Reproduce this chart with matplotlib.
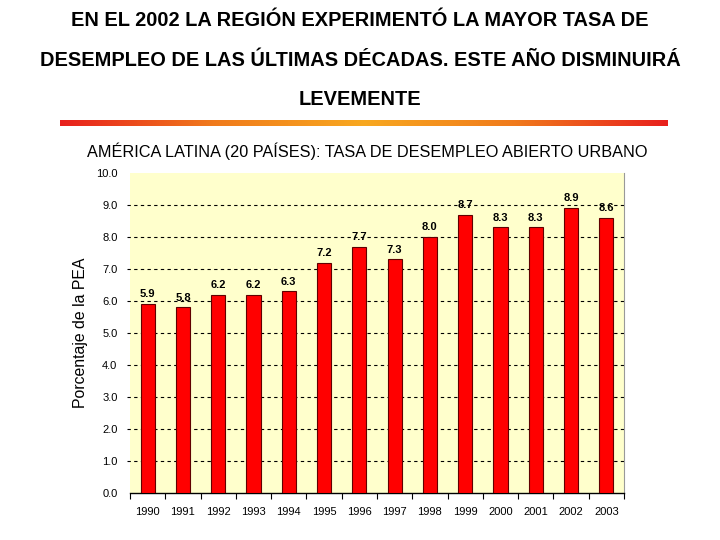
import numpy as np
import matplotlib.pyplot as plt
from matplotlib.colors import LinearSegmentedColormap

plt.rcParams['font.family'] = ['Liberation Sans', 'DejaVu Sans']

years = ["1990", "1991", "1992", "1993", "1994", "1995", "1996",
         "1997", "1998", "1999", "2000", "2001", "2002", "2003"]
rates = [5.9, 5.8, 6.2, 6.2, 6.3, 7.2, 7.7, 7.3, 8.0, 8.7, 8.3, 8.3, 8.9, 8.6]
title_lines = ["EN EL 2002 LA REGIÓN EXPERIMENTÓ LA MAYOR TASA DE",
               "DESEMPLEO DE LAS ÚLTIMAS DÉCADAS. ESTE AÑO DISMINUIRÁ",
               "LEVEMENTE"]
subtitle = "AMÉRICA LATINA (20 PAÍSES): TASA DE DESEMPLEO ABIERTO URBANO"
ylabel = "Porcentaje de la PEA"

fig = plt.figure(figsize=(7.2, 5.4), dpi=100)

# title
for i, line in enumerate(title_lines):
    fig.text(0.5, 1 - (20 + 40 * i) / 540, line, ha="center", va="center",
             fontsize=14.4, fontweight="bold")

# gradient rule under the title
gax = fig.add_axes([60 / 720, 1 - 126 / 540, 608 / 720, 6 / 540])
cmap = LinearSegmentedColormap.from_list("rule", ["#e8201c", "#f07a1c", "#f8a820", "#f07a1c", "#e8201c"])
gax.imshow(np.linspace(0, 1, 256)[None, :], aspect="auto", cmap=cmap)
gax.axis("off")

fig.text(87 / 720, 1 - 151 / 540, subtitle, ha="left", va="center", fontsize=11.7)

ax = fig.add_axes([130 / 720, 1 - 493 / 540, 494 / 720, 320 / 540])
ax.set_facecolor("#ffffcc")
x = np.arange(len(years))
ax.bar(x, rates, width=0.4, color="#ff0000", edgecolor="#600000", linewidth=0.8, zorder=3)
for xi, r in zip(x, rates):
    ax.text(xi, r + 0.15, f"{r:.1f}", ha="center", va="bottom", fontsize=8, fontweight="bold")

ax.set_xlim(-0.5, len(years) - 0.5)
ax.set_ylim(0, 10)
ax.set_yticks(np.arange(0, 11, 1))
ax.set_yticklabels([f"{v:.1f}" for v in range(11)], fontsize=8)
for v in range(1, 10):
    ax.axhline(v, color="black", linestyle=(0, (3, 3)), linewidth=0.8, zorder=2, clip_on=False,
               xmin=-0.006)
ax.set_xticks(x)
ax.set_xticklabels(years, fontsize=8)
ax.set_xticks(np.arange(-0.5, len(years), 1), minor=True)
ax.tick_params(axis="x", which="major", length=0, pad=10)
ax.tick_params(axis="x", which="minor", length=4, width=0.8, direction="out")
ax.tick_params(axis="y", length=0, pad=9)
ax.spines["top"].set_visible(False)
ax.spines["left"].set_visible(False)
ax.spines["right"].set_color("#999999")
ax.spines["bottom"].set_linewidth(1)

fig.text(80 / 720, 1 - 333 / 540, ylabel, rotation=90, ha="center", va="center", fontsize=11.4)

fig.savefig("out.png", dpi=100)
